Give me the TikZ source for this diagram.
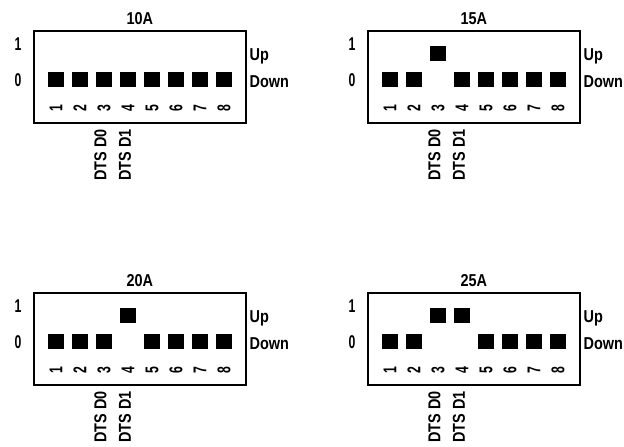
\documentclass[tikz,border=0pt]{standalone}
\usepackage{fontspec}
\newfontfamily\lblfont{Liberation Sans Bold}[FakeStretch=0.84]
\newfontfamily\numfont{Liberation Sans Bold}[FakeStretch=0.66]
\usetikzlibrary{positioning}

\tikzset{
  lbl/.style={font=\lblfont\fontsize{17.2}{19}\selectfont,inner sep=0pt},
  num/.style={font=\numfont\fontsize{18.5}{20}\selectfont,inner sep=0pt},
  sw/.style={fill=black,minimum size=15.5pt,inner sep=0pt},
  dipbox/.style={draw,line width=1.8pt,minimum width=212pt,minimum height=92pt,inner sep=0pt}
}

\begin{document}
\begin{tikzpicture}[x=1pt,y=-1pt]
  \useasboundingbox (0,0) rectangle (624,447);
  % 10A
  \begin{scope}[shift={(33,30)}]
    \node[dipbox,anchor=north west] (boxa) at (0,0) {};
    \node[lbl,above=5pt of boxa] (titlea) {10A};
    \foreach \i/\s in {1/0,2/0,3/0,4/0,5/0,6/0,7/0,8/0} {
      \node[sw] (a\i) at ({23+24*(\i-1)},{49.5-26*\s}) {};
      \node[num,rotate=90] (anum\i) at ({23+24*(\i-1)},78.5) {\i};
    }
    \node[num,anchor=base] (aone) at (-15,20) {1};
    \node[num,anchor=base] (azero) at (-15,56) {0};
    \node[lbl,anchor=base west] (aup) at (216.5,30.5) {Up};
    \node[lbl,anchor=base west] (adown) at (216.5,57) {Down};
    \node[lbl,rotate=90,anchor=east] (adzero) at (67.5,99) {DTS D0};
    \node[lbl,rotate=90,anchor=east] (adone) at (92,99) {DTS D1};
  \end{scope}
  % 15A
  \begin{scope}[shift={(367,30)}]
    \node[dipbox,anchor=north west] (boxb) at (0,0) {};
    \node[lbl,above=5pt of boxb] (titleb) {15A};
    \foreach \i/\s in {1/0,2/0,3/1,4/0,5/0,6/0,7/0,8/0} {
      \node[sw] (b\i) at ({23+24*(\i-1)},{49.5-26*\s}) {};
      \node[num,rotate=90] (bnum\i) at ({23+24*(\i-1)},78.5) {\i};
    }
    \node[num,anchor=base] (bone) at (-15,20) {1};
    \node[num,anchor=base] (bzero) at (-15,56) {0};
    \node[lbl,anchor=base west] (bup) at (216.5,30.5) {Up};
    \node[lbl,anchor=base west] (bdown) at (216.5,57) {Down};
    \node[lbl,rotate=90,anchor=east] (bdzero) at (67.5,99) {DTS D0};
    \node[lbl,rotate=90,anchor=east] (bdone) at (92,99) {DTS D1};
  \end{scope}
  % 20A
  \begin{scope}[shift={(33,292)}]
    \node[dipbox,anchor=north west] (boxc) at (0,0) {};
    \node[lbl,above=5pt of boxc] (titlec) {20A};
    \foreach \i/\s in {1/0,2/0,3/0,4/1,5/0,6/0,7/0,8/0} {
      \node[sw] (c\i) at ({23+24*(\i-1)},{49.5-26*\s}) {};
      \node[num,rotate=90] (cnum\i) at ({23+24*(\i-1)},78.5) {\i};
    }
    \node[num,anchor=base] (cone) at (-15,20) {1};
    \node[num,anchor=base] (czero) at (-15,56) {0};
    \node[lbl,anchor=base west] (cup) at (216.5,30.5) {Up};
    \node[lbl,anchor=base west] (cdown) at (216.5,57) {Down};
    \node[lbl,rotate=90,anchor=east] (cdzero) at (67.5,99) {DTS D0};
    \node[lbl,rotate=90,anchor=east] (cdone) at (92,99) {DTS D1};
  \end{scope}
  % 25A
  \begin{scope}[shift={(367,292)}]
    \node[dipbox,anchor=north west] (boxd) at (0,0) {};
    \node[lbl,above=5pt of boxd] (titled) {25A};
    \foreach \i/\s in {1/0,2/0,3/1,4/1,5/0,6/0,7/0,8/0} {
      \node[sw] (d\i) at ({23+24*(\i-1)},{49.5-26*\s}) {};
      \node[num,rotate=90] (dnum\i) at ({23+24*(\i-1)},78.5) {\i};
    }
    \node[num,anchor=base] (done) at (-15,20) {1};
    \node[num,anchor=base] (dzero) at (-15,56) {0};
    \node[lbl,anchor=base west] (dup) at (216.5,30.5) {Up};
    \node[lbl,anchor=base west] (ddown) at (216.5,57) {Down};
    \node[lbl,rotate=90,anchor=east] (ddzero) at (67.5,99) {DTS D0};
    \node[lbl,rotate=90,anchor=east] (ddone) at (92,99) {DTS D1};
  \end{scope}
\end{tikzpicture}
\end{document}
